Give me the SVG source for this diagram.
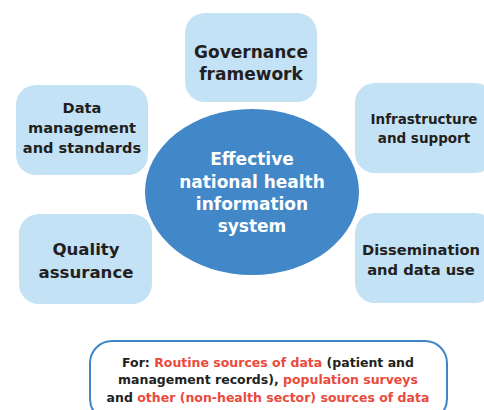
<svg xmlns="http://www.w3.org/2000/svg" width="484" height="410" viewBox="0 0 484 410">
<style>
.box{fill:#c4e2f5}
.t{font-family:"DejaVu Sans","Open Sans",sans-serif;font-weight:bold;fill:#231f20;text-anchor:middle}
.w{fill:#ffffff}
.r{fill:#ea4a3c}
</style>
<rect width="484" height="410" fill="#ffffff"/>
<g id="connectors"></g>
<g id="governance">
<rect class="box" x="185" y="13" width="132" height="89" rx="20"/>
<text class="t" font-size="17" x="251" y="58">Governance</text>
<text class="t" font-size="17" x="251" y="80">framework</text>
</g>
<g id="data-management">
<rect class="box" x="16" y="85" width="132" height="90" rx="20"/>
<text class="t" font-size="14.6" x="82" y="113">Data</text>
<text class="t" font-size="14.6" x="82" y="133">management</text>
<text class="t" font-size="14.6" x="82" y="153">and standards</text>
</g>
<g id="infrastructure">
<rect class="box" x="355" y="83" width="140" height="90" rx="20"/>
<text class="t" font-size="13.5" x="424" y="124">Infrastructure</text>
<text class="t" font-size="13.5" x="424" y="143">and support</text>
</g>
<g id="center">
<ellipse cx="252" cy="192" rx="107" ry="83" fill="#4287c7"/>
<text class="t w" font-size="17" x="252" y="165">Effective</text>
<text class="t w" font-size="17" x="252" y="188">national health</text>
<text class="t w" font-size="17" x="252" y="210">information</text>
<text class="t w" font-size="17" x="252" y="232">system</text>
</g>
<g id="quality">
<rect class="box" x="19" y="214" width="133" height="90" rx="20"/>
<text class="t" font-size="16.6" x="86" y="255">Quality</text>
<text class="t" font-size="16.6" x="86" y="278">assurance</text>
</g>
<g id="dissemination">
<rect class="box" x="355" y="213" width="140" height="90" rx="20"/>
<text class="t" font-size="14.7" x="421" y="255">Dissemination</text>
<text class="t" font-size="14.7" x="421" y="275">and data use</text>
</g>
<g id="sources">
<rect x="90" y="341" width="357" height="80" rx="22" fill="#ffffff" stroke="#3f86c8" stroke-width="2"/>
<text class="t" font-size="12.5" x="268" y="367">For: <tspan class="r">Routine sources of data</tspan> (patient and</text>
<text class="t" font-size="12.5" x="268" y="384">management records), <tspan class="r">population surveys</tspan></text>
<text class="t" font-size="12.5" x="268" y="402">and <tspan class="r">other (non-health sector) sources of data</tspan></text>
</g>
</svg>
